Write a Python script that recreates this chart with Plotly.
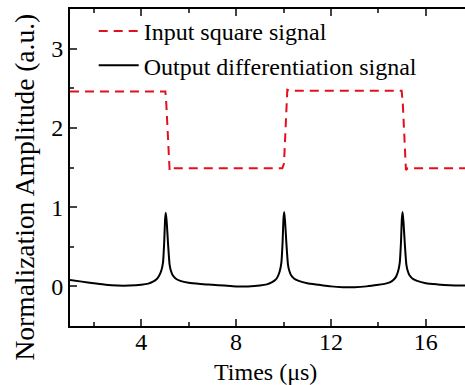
import plotly.graph_objects as go

# Input square signal
sq_x = [1.0, 5.02, 5.06, 5.20, 5.28, 9.95, 10.02, 10.16, 10.24, 14.98, 15.03, 15.16, 15.24, 17.7]
sq_y = [2.46, 2.46, 2.30, 1.46, 1.49, 1.49, 1.55, 2.48, 2.47, 2.47, 2.30, 1.47, 1.49, 1.49]

# Output differentiation signal
out_x = [1.0, 1.5, 2.0, 2.5, 3.0, 3.5, 4.0, 4.3, 4.5, 4.65, 4.75, 4.85, 4.92, 4.97, 5.01, 5.04,
         5.08, 5.13, 5.2, 5.25, 5.33, 5.45, 5.65, 6.0, 6.5, 7.0, 7.5, 8.0, 8.5, 9.0, 9.3, 9.5,
         9.65, 9.75, 9.84, 9.91, 9.96, 10.0, 10.03, 10.07, 10.12, 10.19, 10.24, 10.32, 10.44,
         10.64, 11.0, 11.5, 12.0, 12.5, 13.0, 13.5, 14.0, 14.3, 14.5, 14.64, 14.74, 14.83, 14.9,
         14.95, 14.99, 15.02, 15.06, 15.11, 15.18, 15.23, 15.31, 15.43, 15.63, 16.0, 16.5, 17.0, 17.7]
out_y = [0.08, 0.06, 0.04, 0.02, 0.01, 0.01, 0.02, 0.035, 0.06, 0.09, 0.13, 0.2, 0.3, 0.55, 0.85, 0.93,
         0.8, 0.55, 0.27, 0.2, 0.14, 0.1, 0.07, 0.045, 0.03, 0.02, 0.01, 0.0, 0.0, 0.01, 0.025, 0.05,
         0.08, 0.12, 0.19, 0.3, 0.55, 0.86, 0.94, 0.8, 0.55, 0.27, 0.2, 0.14, 0.1,
         0.07, 0.04, 0.02, 0.0, -0.01, -0.01, 0.0, 0.02, 0.035, 0.055, 0.085, 0.12, 0.19, 0.3,
         0.55, 0.86, 0.94, 0.8, 0.55, 0.27, 0.2, 0.14, 0.1, 0.07, 0.04, 0.025, 0.015, 0.01]

x_ticks = [4, 8, 12, 16]
y_ticks = [0, 1, 2, 3]

x_title = "Times (μs)"
y_title = "Normalization Amplitude (a.u.)"

FAM = "Liberation Serif"

def f(size):
    return dict(family=FAM, size=size, color="black")

fig = go.Figure()
fig.add_trace(go.Scatter(x=sq_x, y=sq_y, mode="lines", name="Input square signal",
                         line=dict(color="#e3101c", width=2, dash="9px,6px")))
fig.add_trace(go.Scatter(x=out_x, y=out_y, mode="lines", name="Output differentiation signal",
                         line=dict(color="black", width=2, shape="spline", smoothing=0.6)))

fig.update_layout(
    width=465, height=385,
    margin=dict(l=70, r=0, t=9, b=59),
    paper_bgcolor="white", plot_bgcolor="white",
    font=f(24),
    showlegend=True,
    legend=dict(x=0.06, y=1.0, xanchor="left", yanchor="top", bgcolor="rgba(0,0,0,0)",
                font=f(24), tracegroupgap=0, itemwidth=40),
)
fig.update_xaxes(
    range=[1, 17.65], tickvals=x_ticks, ticks="inside", ticklen=7, tickwidth=2,
    showline=True, linewidth=2, linecolor="black", mirror="ticks", showgrid=False, zeroline=False,
    minor=dict(ticks="inside", dtick=2, tick0=0, ticklen=4, tickwidth=2),
    tickfont=f(24), ticklabelstandoff=-7,
)
fig.update_yaxes(
    range=[-0.5, 3.5], tickvals=y_ticks, ticks="inside", ticklen=7, tickwidth=2,
    showline=True, linewidth=2, linecolor="black", mirror=False, showgrid=False, zeroline=False,
    minor=dict(ticks="inside", dtick=0.5, tick0=0, ticklen=4, tickwidth=2),
    tickfont=f(24),
)
fig.add_annotation(text=x_title, xref="paper", yref="paper", x=0.494, y=-0.145,
                   xanchor="center", yanchor="middle", showarrow=False, font=f(24))
fig.add_annotation(text=y_title, xref="paper", yref="paper", x=-0.114, y=0.44, textangle=-90,
                   xanchor="center", yanchor="middle", showarrow=False, font=f(27.5))

fig.write_html("out.html")
